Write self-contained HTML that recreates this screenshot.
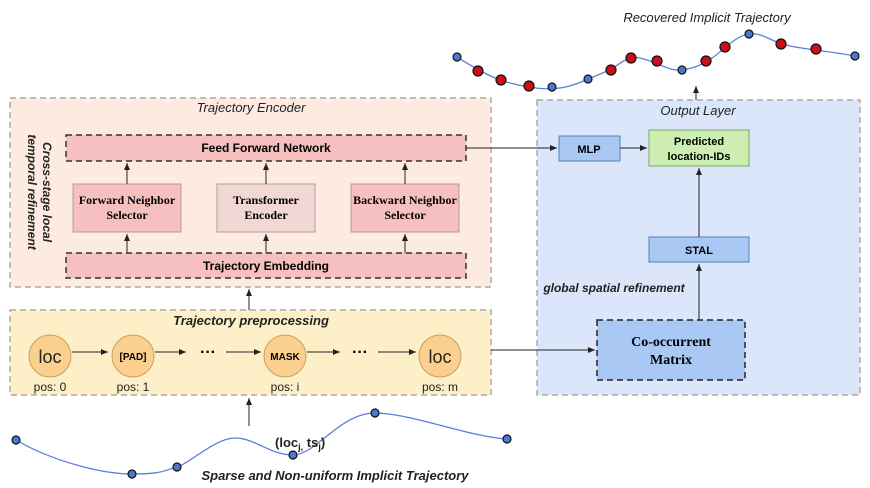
<!DOCTYPE html>
<html><head><meta charset="utf-8"><style>body{margin:0;background:#fff}svg{display:block}text{font-family:"Liberation Sans",sans-serif}</style></head><body>
<svg width="870" height="488" viewBox="0 0 870 488" xmlns="http://www.w3.org/2000/svg">
<defs><marker id="a" markerWidth="8" markerHeight="8" refX="7" refY="4" orient="auto" markerUnits="userSpaceOnUse"><path d="M0,1 L7,4 L0,7z" fill="#222"/></marker></defs>
<!-- Recovered trajectory -->
<text x="707" y="22" font-size="13" font-style="italic" text-anchor="middle" fill="#222">Recovered Implicit Trajectory</text>
<path d="M457,57 C470,65 490,78 510,83 S545,90 560,88 S590,78 605,72 S625,55 640,58 S670,72 682,70 S700,66 712,58 S735,36 749,34 S770,42 790,46 S835,52 855,56" fill="none" stroke="#5b7fd6" stroke-width="1.3"/>
<g stroke="#111" stroke-width="1.2">
<circle cx="457" cy="57" r="4" fill="#4a78d0"/><circle cx="478" cy="71" r="5" fill="#c8101a"/><circle cx="501" cy="80" r="5" fill="#c8101a"/><circle cx="529" cy="86" r="5" fill="#c8101a"/><circle cx="552" cy="87" r="4" fill="#4a78d0"/><circle cx="588" cy="79" r="4" fill="#4a78d0"/><circle cx="611" cy="70" r="5" fill="#c8101a"/><circle cx="631" cy="58" r="5" fill="#c8101a"/><circle cx="657" cy="61" r="5" fill="#c8101a"/><circle cx="682" cy="70" r="4" fill="#4a78d0"/><circle cx="706" cy="61" r="5" fill="#c8101a"/><circle cx="725" cy="47" r="5" fill="#c8101a"/><circle cx="749" cy="34" r="4" fill="#4a78d0"/><circle cx="781" cy="44" r="5" fill="#c8101a"/><circle cx="816" cy="49" r="5" fill="#c8101a"/><circle cx="855" cy="56" r="4" fill="#4a78d0"/>
</g>
<line x1="696" y1="100" x2="696" y2="86" stroke="#222" marker-end="url(#a)"/>
<!-- Output layer -->
<rect x="537" y="100" width="323" height="295" fill="#dbe6fb" stroke="#aaa" stroke-width="1.5" stroke-dasharray="6,4"/>
<text x="698" y="115" font-size="13" font-style="italic" text-anchor="middle" fill="#222">Output Layer</text>
<rect x="559" y="136" width="61" height="25" fill="#a9c8f4" stroke="#5a7fb5"/>
<text x="589" y="153" font-size="11" font-weight="bold" text-anchor="middle">MLP</text>
<rect x="649" y="130" width="100" height="36" fill="#cdeeb2" stroke="#7aa860"/>
<text x="699" y="145" font-size="11" font-weight="bold" text-anchor="middle">Predicted</text>
<text x="699" y="160" font-size="11" font-weight="bold" text-anchor="middle">location-IDs</text>
<line x1="620" y1="148" x2="647" y2="148" stroke="#222" marker-end="url(#a)"/>
<rect x="649" y="237" width="100" height="25" fill="#a9c8f4" stroke="#5a7fb5"/>
<text x="699" y="254" font-size="11" font-weight="bold" text-anchor="middle">STAL</text>
<line x1="699" y1="237" x2="699" y2="168" stroke="#222" marker-end="url(#a)"/>
<text x="614" y="292" font-size="12" font-style="italic" font-weight="bold" text-anchor="middle" fill="#222">global spatial refinement</text>
<line x1="699" y1="320" x2="699" y2="264" stroke="#222" marker-end="url(#a)"/>
<rect x="597" y="320" width="148" height="60" fill="#a9c8f4" stroke="#222" stroke-width="1.5" stroke-dasharray="6,4"/>
<text x="671" y="346" font-size="14" font-weight="bold" text-anchor="middle" font-family="Liberation Serif,serif" style="font-family:'Liberation Serif',serif">Co-occurrent</text>
<text x="671" y="364" font-size="14" font-weight="bold" text-anchor="middle" style="font-family:'Liberation Serif',serif">Matrix</text>
<!-- Encoder -->
<rect x="10" y="98" width="481" height="189" fill="#fdebe2" stroke="#aaa" stroke-width="1.5" stroke-dasharray="6,4"/>
<text x="251" y="112" font-size="13" font-style="italic" text-anchor="middle" fill="#222">Trajectory Encoder</text>
<text transform="translate(43,192) rotate(90)" font-size="12" font-style="italic" font-weight="bold" text-anchor="middle" fill="#222">Cross-stage local</text>
<text transform="translate(28,192) rotate(90)" font-size="12" font-style="italic" font-weight="bold" text-anchor="middle" fill="#222">temporal refinement</text>
<rect x="66" y="135" width="400" height="26" fill="#f7c0c0" stroke="#333" stroke-width="1.5" stroke-dasharray="6,4"/>
<text x="266" y="152" font-size="12" font-weight="bold" text-anchor="middle">Feed Forward Network</text>
<line x1="466" y1="148" x2="557" y2="148" stroke="#222" marker-end="url(#a)"/>
<g style="font-family:'Liberation Serif',serif" font-size="12" font-weight="bold" text-anchor="middle">
<rect x="73" y="184" width="108" height="48" fill="#f7c0c0" stroke="#b99"/>
<text x="127" y="204" style="font-family:'Liberation Serif',serif">Forward Neighbor</text><text x="127" y="219" style="font-family:'Liberation Serif',serif">Selector</text>
<rect x="217" y="184" width="98" height="48" fill="#f2d8d4" stroke="#b99"/>
<text x="266" y="204" style="font-family:'Liberation Serif',serif">Transformer</text><text x="266" y="219" style="font-family:'Liberation Serif',serif">Encoder</text>
<rect x="351" y="184" width="108" height="48" fill="#f7c0c0" stroke="#b99"/>
<text x="405" y="204" style="font-family:'Liberation Serif',serif">Backward Neighbor</text><text x="405" y="219" style="font-family:'Liberation Serif',serif">Selector</text>
</g>
<g stroke="#222"><line x1="127" y1="184" x2="127" y2="163" marker-end="url(#a)"/><line x1="266" y1="184" x2="266" y2="163" marker-end="url(#a)"/><line x1="405" y1="184" x2="405" y2="163" marker-end="url(#a)"/>
<line x1="127" y1="253" x2="127" y2="234" marker-end="url(#a)"/><line x1="266" y1="253" x2="266" y2="234" marker-end="url(#a)"/><line x1="405" y1="253" x2="405" y2="234" marker-end="url(#a)"/></g>
<rect x="66" y="253" width="400" height="25" fill="#f7c0c0" stroke="#333" stroke-width="1.5" stroke-dasharray="6,4"/>
<text x="266" y="270" font-size="12" font-weight="bold" text-anchor="middle">Trajectory Embedding</text>
<line x1="249" y1="310" x2="249" y2="289" stroke="#222" marker-end="url(#a)"/>
<!-- Preprocessing -->
<rect x="10" y="310" width="481" height="85" fill="#fdf0c8" stroke="#aaa" stroke-width="1.5" stroke-dasharray="6,4"/>
<text x="251" y="325" font-size="13" font-style="italic" font-weight="bold" text-anchor="middle" fill="#222">Trajectory preprocessing</text>
<g fill="#fbd08e" stroke="#c9a060"><circle cx="50" cy="356" r="21"/><circle cx="133" cy="356" r="21"/><circle cx="285" cy="356" r="21"/><circle cx="440" cy="356" r="21"/></g>
<text x="50" y="363" font-size="18" text-anchor="middle" fill="#222">loc</text>
<text x="133" y="360" font-size="10" font-weight="bold" text-anchor="middle">[PAD]</text>
<text x="285" y="360" font-size="10" font-weight="bold" text-anchor="middle">MASK</text>
<text x="440" y="363" font-size="18" text-anchor="middle" fill="#222">loc</text>
<g font-size="12" text-anchor="middle" fill="#222"><text x="50" y="391">pos: 0</text><text x="133" y="391">pos: 1</text><text x="285" y="391">pos: i</text><text x="440" y="391">pos: m</text></g>
<g stroke="#222"><line x1="72" y1="352" x2="108" y2="352" marker-end="url(#a)"/><line x1="155" y1="352" x2="186" y2="352" marker-end="url(#a)"/><line x1="226" y1="352" x2="261" y2="352" marker-end="url(#a)"/><line x1="307" y1="352" x2="340" y2="352" marker-end="url(#a)"/><line x1="378" y1="352" x2="416" y2="352" marker-end="url(#a)"/>
<line x1="491" y1="350" x2="595" y2="350" marker-end="url(#a)"/></g>
<text x="208" y="357" font-size="16" font-weight="bold" text-anchor="middle">···</text>
<text x="360" y="357" font-size="16" font-weight="bold" text-anchor="middle">···</text>
<line x1="249" y1="426" x2="249" y2="398" stroke="#222" marker-end="url(#a)"/>
<!-- Bottom trajectory -->
<path d="M16,440 C50,460 100,474 132,474 S165,470 177,467 S215,438 235,438 S270,455 293,455 S340,413 375,413 S470,437 507,439" fill="none" stroke="#5b7fd6" stroke-width="1.3"/>
<g stroke="#111" stroke-width="1.2" fill="#4a78d0"><circle cx="16" cy="440" r="4"/><circle cx="132" cy="474" r="4"/><circle cx="177" cy="467" r="4"/><circle cx="293" cy="455" r="4"/><circle cx="375" cy="413" r="4"/><circle cx="507" cy="439" r="4"/></g>
<text x="275" y="447" font-size="13" font-weight="bold" fill="#222">(loc<tspan font-size="9" dy="3">j,</tspan><tspan dy="-3"> ts</tspan><tspan font-size="9" dy="3">j</tspan><tspan dy="-3">)</tspan></text>
<text x="335" y="480" font-size="13" font-style="italic" font-weight="bold" text-anchor="middle" fill="#222">Sparse and Non-uniform Implicit Trajectory</text>
</svg>
</body></html>
